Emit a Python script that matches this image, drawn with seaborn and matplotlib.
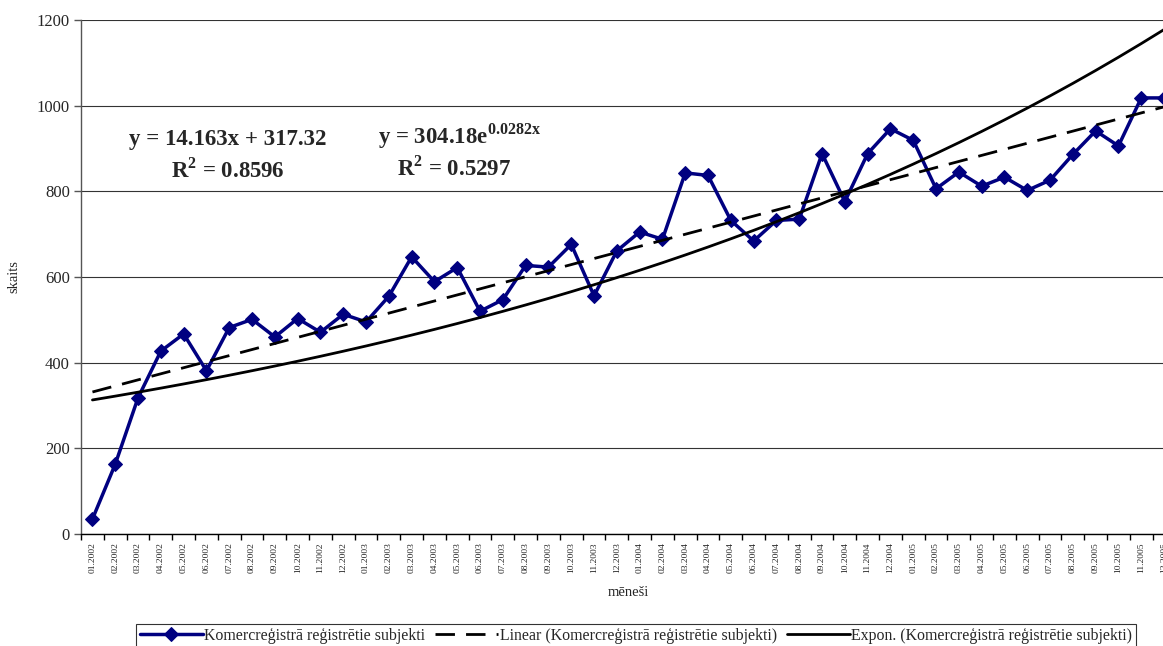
import matplotlib
matplotlib.use("Agg")
import matplotlib.pyplot as plt
import numpy as np
import pandas as pd
import seaborn as sns

# monthly labels and counts
months = [
    "01.2002", "02.2002", "03.2002", "04.2002", "05.2002", "06.2002",
    "07.2002", "08.2002", "09.2002", "10.2002", "11.2002", "12.2002",
    "01.2003", "02.2003", "03.2003", "04.2003", "05.2003", "06.2003",
    "07.2003", "08.2003", "09.2003", "10.2003", "11.2003", "12.2003",
    "01.2004", "02.2004", "03.2004", "04.2004", "05.2004", "06.2004",
    "07.2004", "08.2004", "09.2004", "10.2004", "11.2004", "12.2004",
    "01.2005", "02.2005", "03.2005", "04.2005", "05.2005", "06.2005",
    "07.2005", "08.2005", "09.2005", "10.2005", "11.2005", "12.2005",
]
counts = [
    35, 163, 318, 427, 467, 381, 482, 501, 460, 503, 471, 513,
    495, 555, 647, 589, 622, 520, 547, 627, 623, 676, 556, 661,
    705, 688, 843, 837, 732, 684, 732, 735, 888, 776, 888, 946,
    919, 806, 845, 812, 833, 802, 826, 886, 941, 906, 1018, 1018,
]

# trendline coefficients shown on the chart
lin_slope, lin_icpt = 14.163, 317.32
exp_a, exp_b = 304.18, 0.0282

series_name = "Komercreģistrā reģistrētie subjekti"

df = pd.DataFrame({"idx": np.arange(len(months)), "value": counts})
xs = df["idx"].to_numpy() + 1
df["linear"] = lin_slope * xs + lin_icpt
df["expon"] = exp_a * np.exp(exp_b * xs)

sns.set_theme(style="white")
plt.rcParams["font.family"] = ["Liberation Serif", "DejaVu Serif"]
plt.rcParams["mathtext.fontset"] = "custom"
plt.rcParams["mathtext.rm"] = "Liberation Serif"
plt.rcParams["mathtext.bf"] = "Liberation Serif:bold"

fig = plt.figure(figsize=(11.63, 6.46), dpi=100)
ax = fig.add_axes([0.0697, 0.1734, 0.941, 0.7957])

ax.set_axisbelow(True)
ax.yaxis.grid(True, color="#333333", lw=0.8)

sns.lineplot(data=df, x="idx", y="value", ax=ax, color="#000080", lw=2.5,
             marker="D", markersize=7, markeredgecolor="#000080",
             label=series_name)
sns.lineplot(data=df, x="idx", y="linear", ax=ax, color="black", lw=2,
             dashes=False, label=f"Linear ({series_name})")
ax.lines[-1].set_dashes([7, 4])
sns.lineplot(data=df, x="idx", y="expon", ax=ax, color="black", lw=2,
             label=f"Expon. ({series_name})")

ax.set_xlim(-0.5, len(months) - 0.5)
ax.set_ylim(0, 1200)
ax.set_yticks(range(0, 1201, 200))
ax.tick_params(axis="y", labelsize=12, length=5, width=1, direction="out",
               left=True, color="#555555", pad=3)

ax.set_xticks(np.arange(-0.5, len(months), 1.0))
ax.set_xticklabels([])
ax.set_xticks(np.arange(len(months)), minor=True)
ax.set_xticklabels(months, minor=True, rotation=90, fontsize=6.8)
ax.tick_params(axis="x", which="major", length=4, width=1, direction="out",
               bottom=True, color="black")
ax.tick_params(axis="x", which="minor", length=0, pad=6)

for side in ["top", "right"]:
    ax.spines[side].set_visible(False)
ax.spines["left"].set_color("#555555")
ax.spines["left"].set_linewidth(1)
ax.spines["bottom"].set_color("black")
ax.spines["bottom"].set_linewidth(1)

ax.set_xlabel("mēneši", fontsize=10.5, labelpad=9)
ax.set_ylabel("skaits", fontsize=10.5, labelpad=12)

eq_kw = dict(fontsize=16.5, fontweight="bold", ha="center", va="center",
             transform=fig.transFigure)
fig.text(228 / 1163, 1 - 139 / 646, "y = 14.163x + 317.32", **eq_kw)
fig.text(228 / 1163, 1 - 170 / 646, r"R$^{\mathbf{2}}$ = 0.8596", **eq_kw)
fig.text(460 / 1163, 1 - 136 / 646, r"y = 304.18e$^{\mathbf{0.0282x}}$", **eq_kw)
fig.text(454 / 1163, 1 - 168 / 646, r"R$^{\mathbf{2}}$ = 0.5297", **eq_kw)

ax.legend_.remove()
handles, labels = ax.get_legend_handles_labels()
leg = fig.legend(handles, labels, loc="upper center", ncol=3,
                 bbox_to_anchor=(636 / 1163, 1 - 624 / 646), fontsize=11.4,
                 frameon=True, fancybox=False, edgecolor="black",
                 handlelength=4.0, handletextpad=0.1, columnspacing=0.6,
                 borderpad=0.25, borderaxespad=0)
leg.get_frame().set_linewidth(0.8)

fig.savefig("out.png", dpi=100)
